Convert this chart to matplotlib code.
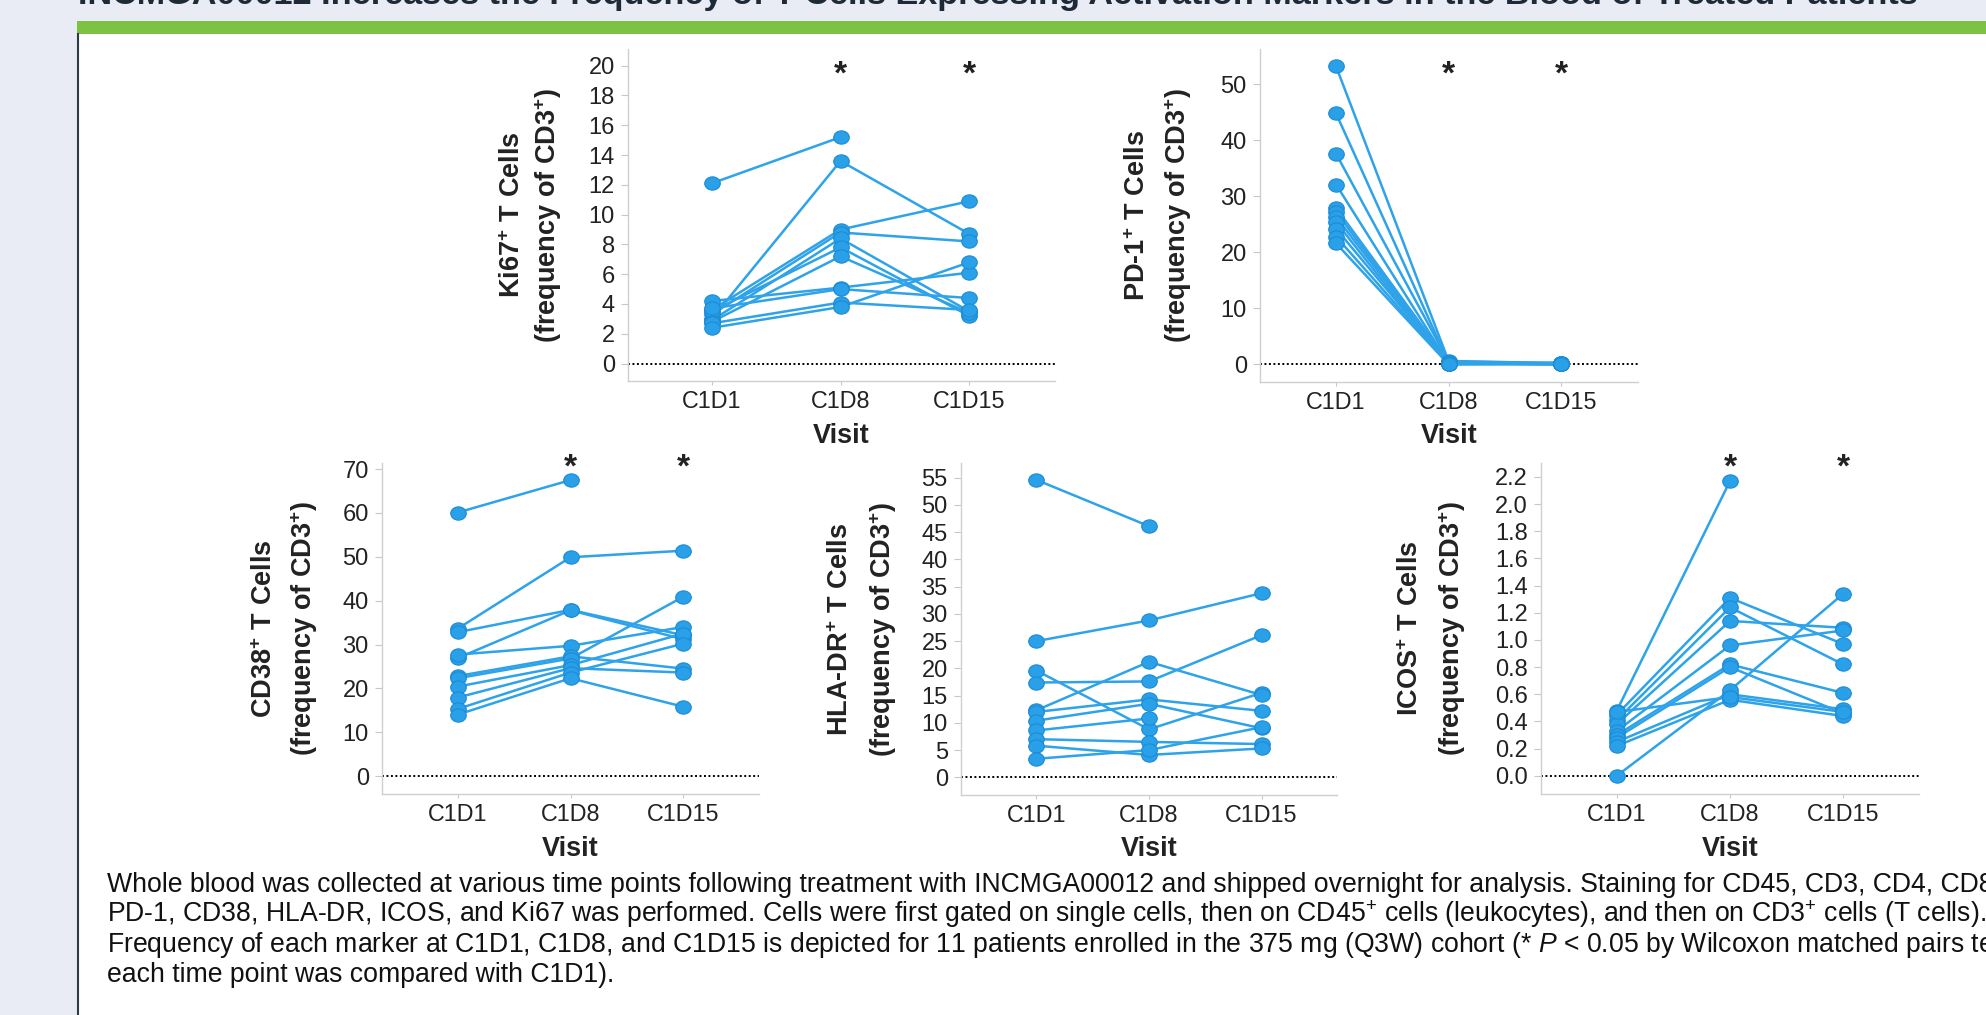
import numpy as np
import matplotlib
matplotlib.use("Agg")
import matplotlib.pyplot as plt
from matplotlib import transforms
from matplotlib.patches import Rectangle
from matplotlib.lines import Line2D
from matplotlib.path import Path
from matplotlib.markers import MarkerStyle

plt.rcParams['font.family'] = ['Liberation Sans', 'DejaVu Sans']
plt.rcParams['mathtext.fontset'] = 'custom'
plt.rcParams['mathtext.rm'] = 'Liberation Sans'
plt.rcParams['mathtext.it'] = 'Liberation Sans:italic'
plt.rcParams['mathtext.bf'] = 'Liberation Sans:bold'

nan = np.nan
visits = ["C1D1", "C1D8", "C1D15"]

# one value per patient (11 patients), nan = no sample
ki67_c1d1 = [12.1, 3.0, 3.6, 3.3, 2.9, 3.5, 2.8, 4.2, 3.7, 2.7, 2.4]
ki67_c1d8 = [15.2, 13.6, 9.0, 8.8, 8.4, 7.8, 7.2, 5.1, 5.0, 4.1, 3.8]
ki67_c1d15 = [nan, 8.7, 10.9, 8.2, 3.5, 3.2, 3.4, 6.1, 4.4, 3.6, 6.8]

pd1_c1d1 = [53.2, 44.8, 37.6, 32.1, 27.9, 27.2, 26.3, 25.4, 24.2, 22.8, 21.6]
pd1_c1d8 = [0.6, 0.3, 0.5, 0.2, 0.4, 0.1, 0.3, 0.0, 0.2, 0.1, 0.0]
pd1_c1d15 = [0.2, 0.1, 0.2, 0.0, 0.1, 0.3, 0.0, 0.1, 0.0, 0.2, 0.0]

cd38_c1d1 = [60.1, 33.6, 32.8, 26.9, 27.7, 22.8, 22.3, 20.4, 17.9, 15.3, 14.0]
cd38_c1d8 = [67.5, 49.9, 37.9, 37.8, 29.7, 27.3, 26.8, 25.3, 24.6, 23.6, 22.3]
cd38_c1d15 = [nan, 51.4, 32.1, 31.2, 34.0, 24.5, 40.9, 32.5, 23.6, 30.2, 15.8]

hla_c1d1 = [54.6, 25.0, 19.6, 17.4, 12.3, 12.0, 10.4, 8.6, 7.0, 5.8, 3.4]
hla_c1d8 = [46.1, 28.8, 8.8, 17.6, 21.2, 14.3, 13.5, 10.8, 6.5, 4.1, 5.0]
hla_c1d15 = [nan, 33.8, 15.5, 26.1, 15.1, 12.2, 9.0, nan, 6.1, 5.3, 9.2]

icos_c1d1 = [0.48, 0.45, 0.41, 0.38, 0.33, 0.30, 0.28, 0.25, 0.22, 0.00, 0.47]
icos_c1d8 = [2.17, 1.31, 1.24, 1.14, 0.96, 0.82, 0.80, 0.60, 0.56, 0.63, 0.58]
icos_c1d15 = [nan, 0.97, 0.82, 1.09, 1.07, 0.61, 0.46, 0.49, 0.44, 1.34, 0.47]

title_text = ("INCMGA00012 Increases the Frequency of T Cells Expressing Activation "
              "Markers in the Blood of Treated Patients")
caption_lines = [
    "Whole blood was collected at various time points following treatment with INCMGA00012 "
    "and shipped overnight for analysis. Staining for CD45, CD3, CD4, CD8,",
    "PD-1, CD38, HLA-DR, ICOS, and Ki67 was performed. Cells were first gated on single cells, "
    "then on CD45$^{+}$ cells (leukocytes), and then on CD3$^{+}$ cells (T cells).",
    "Frequency of each marker at C1D1, C1D8, and C1D15 is depicted for 11 patients enrolled "
    "in the 375 mg (Q3W) cohort (* $P$ < 0.05 by Wilcoxon matched pairs test;",
    "each time point was compared with C1D1).",
]

W, H = 1986, 1015
fig = plt.figure(figsize=(W / 100, H / 100), dpi=100)
fig.patch.set_facecolor("#e9ecf5")

def fx(x):
    return x / W

def fy(y):
    return 1 - y / H

# poster frame, kept behind the axes
fig.patches.append(Rectangle((fx(79), 0), 1, fy(34), transform=fig.transFigure,
                             facecolor="white", edgecolor="none", zorder=-5))
fig.patches.append(Rectangle((fx(77), fy(34)), 1, 13 / H, transform=fig.transFigure,
                             facecolor="#7dc242", edgecolor="none", zorder=-5))
fig.lines.append(Line2D([fx(78), fx(78)], [0, fy(34)], transform=fig.transFigure,
                        color="#2f3a48", lw=1.5, zorder=-4))

title = fig.text(fx(78), fy(4), title_text, fontsize=22, weight="bold",
                 color="#1f2a38", ha="left", va="baseline")

blue = "#2ea3ea"
ell = Path.unit_circle()
ell = Path(ell.vertices * [1.17, 1.0], ell.codes)
dot = MarkerStyle(ell)

# values, px box (left, top, right, bottom), ylim, xlim, ticks, fmt, label, label offsets, stars, row
panels = [
    ((ki67_c1d1, ki67_c1d8, ki67_c1d15), (628, 49, 1055, 381), (-1.17, 21.12),
     (-0.65, 2.665), np.arange(0, 21, 2), "%d", "Ki67", (115, 80), True, 0),
    ((pd1_c1d1, pd1_c1d8, pd1_c1d15), (1260, 49, 1638, 382), (-3.16, 56.3),
     (-0.676, 2.684), np.arange(0, 51, 10), "%d", "PD-1", (122, 82), True, 0),
    ((cd38_c1d1, cd38_c1d8, cd38_c1d15), (382, 463, 759, 794), (-4.1, 71.4),
     (-0.67, 2.67), np.arange(0, 71, 10), "%d", "CD38", (117, 78), True, 1),
    ((hla_c1d1, hla_c1d8, hla_c1d15), (961, 463, 1337, 795), (-3.25, 57.7),
     (-0.67, 2.67), np.arange(0, 56, 5), "%d", "HLA-DR", (120, 78), False, 1),
    ((icos_c1d1, icos_c1d8, icos_c1d15), (1541, 463, 1919, 794), (-0.134, 2.303),
     (-0.67, 2.67), np.arange(0, 2.21, 0.2), "%.1f", "ICOS", (130, 89), True, 1),
]

star_y = [84, 477]
visit_y = [443, 856]

for vals, box, ylim, xlim, ticks, fmt, lab, offs, stars, row in panels:
    l, t, r, b = box
    ax = fig.add_axes([fx(l), fy(b), (r - l) / W, (b - t) / H])
    ax.set_facecolor("none")
    data = np.array(vals).T
    x = np.arange(len(visits))
    ax.axhline(0, color="black", lw=1.4, linestyle=(0, (1, 1.3)), zorder=1.5)
    for p in data:
        ax.plot(x, p, color=blue, lw=1.8, zorder=2)
    for p in data:
        ax.plot(x, p, linestyle="none", marker=dot, markersize=11.2,
                markerfacecolor="#29a0e8", markeredgecolor="#1b8cd6",
                markeredgewidth=0.8, zorder=3)
    ax.set_xlim(*xlim)
    ax.set_ylim(*ylim)
    ax.set_xticks(x)
    ax.set_xticklabels(visits)
    ax.set_yticks(ticks)
    ax.set_yticklabels([fmt % v for v in ticks])
    for s in ["top", "right"]:
        ax.spines[s].set_visible(False)
    for s in ["left", "bottom"]:
        ax.spines[s].set_color("#cfcfcf")
        ax.spines[s].set_linewidth(1.0)
    ax.tick_params(axis="y", length=5, width=0.8, color="#c8c8c8", pad=4.5,
                   labelsize=17, labelcolor="#222222")
    ax.tick_params(axis="x", length=3, width=0.8, color="#c8c8c8", pad=3.2,
                   labelsize=16.8, labelcolor="#222222")

    yc = fy((t + b) / 2)
    fig.text(fx(l - offs[0]), yc, lab + r"$^{\mathbf{+}}$ T Cells", rotation=90,
             ha="center", va="center", fontsize=19.5, weight="bold", color="#222222")
    fig.text(fx(l - offs[1]), yc, r"(frequency of CD3$^{\mathbf{+}}$)", rotation=90,
             ha="center", va="center", fontsize=19.5, weight="bold", color="#222222")

    tr = transforms.blended_transform_factory(ax.transAxes, fig.transFigure)
    ax.text(0.5, fy(visit_y[row]), "Visit", transform=tr, ha="center", va="baseline",
            fontsize=19.5, weight="bold", color="#222222")
    if stars:
        trs = transforms.blended_transform_factory(ax.transData, fig.transFigure)
        for i in [1, 2]:
            ax.text(i, fy(star_y[row]), "*", transform=trs, ha="center", va="baseline",
                    fontsize=24, weight="bold", color="#222222", clip_on=False)

for i, line in enumerate(caption_lines):
    fig.text(fx(107), fy(892 + 30 * i), line, ha="left", va="baseline",
             fontsize=19.2, color="#111111")

fig.canvas.draw()
bb = title.get_window_extent()
title.set_fontsize(22 * 1841 / bb.width)

fig.savefig("out.png", dpi=100, facecolor=fig.get_facecolor())
